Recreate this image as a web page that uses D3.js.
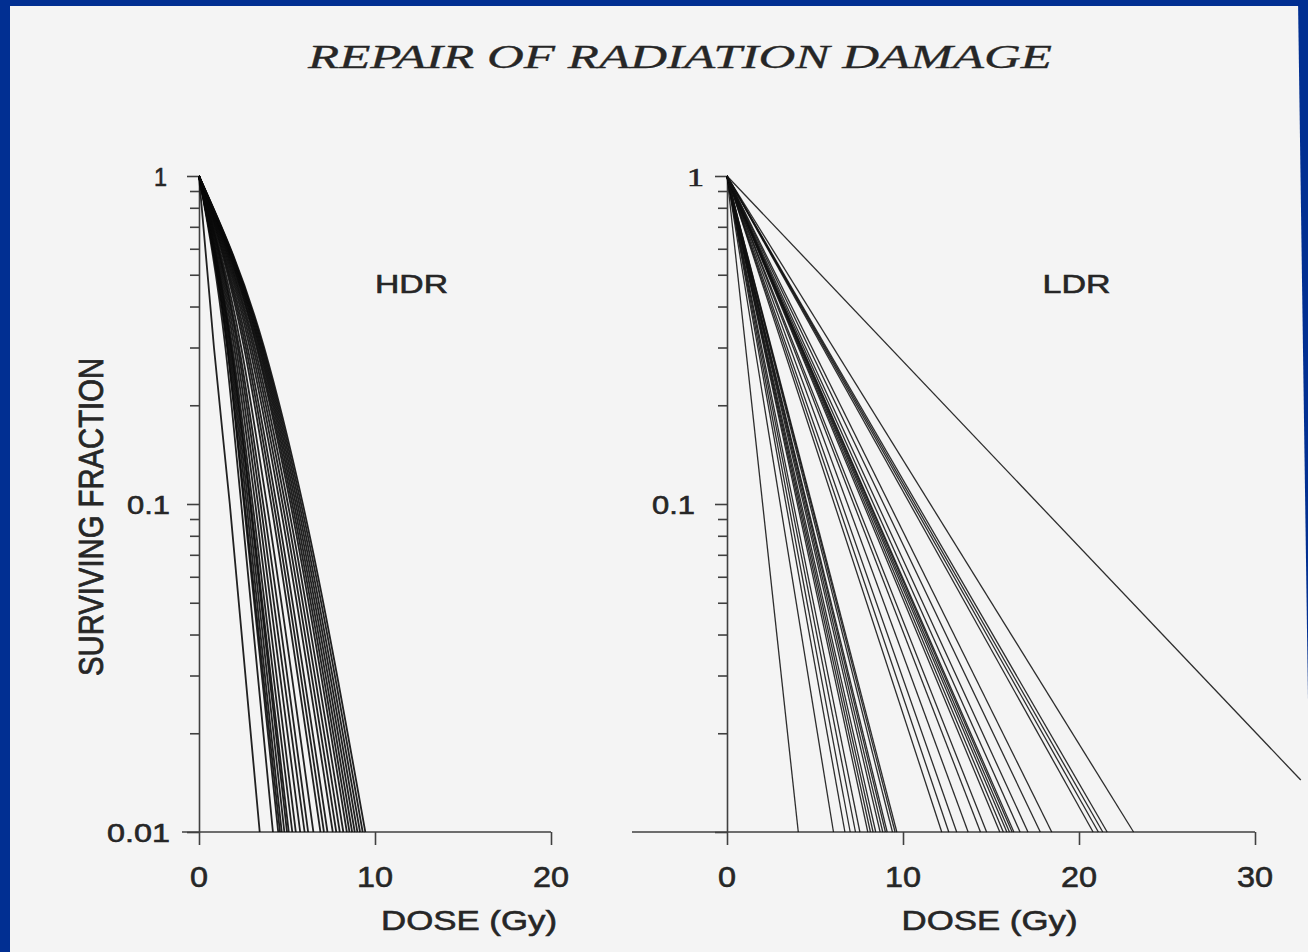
<!DOCTYPE html>
<html lang="en">
<head>
<meta charset="UTF-8">
<title>Repair of radiation damage</title>
<style>
  body { margin: 0; background: #f4f4f4; }
  svg { display: block; }
  text { fill: #262626; stroke: #262626; stroke-width: 0.6px; }
  text.title { stroke-width: 0.3px; }
</style>
</head>
<body>
<svg></svg>
<script src="https://d3js.org/d3.v7.min.js"></script>
<script>
// HDR: dose (Gy) at which each survival curve crosses S = 0.3, 0.1 and 0.01
var hdrDoseS30 = [0.85, 1.5, 1.6, 1.62, 1.68, 1.74, 1.8, 1.84, 1.9, 2.0, 2.1, 2.2, 2.28, 2.4, 2.56,
    2.66, 2.76, 2.88, 2.98, 3.08, 3.17, 3.27, 3.33, 3.4, 3.46, 3.52, 3.58, 3.64, 3.7];
var hdrDoseS10 = [1.75, 2.4, 2.55, 2.6, 2.7, 2.8, 2.9, 2.95, 3.05, 3.2, 3.35, 3.5, 3.65, 3.85, 4.1,
    4.25, 4.4, 4.6, 4.75, 4.9, 5.05, 5.2, 5.3, 5.4, 5.5, 5.6, 5.7, 5.8, 5.9];
var hdrDoseS01 = [3.45, 4.2, 4.5, 4.6, 4.7, 4.85, 5.0, 5.1, 5.3, 5.5, 5.75, 6.0, 6.2, 6.5, 6.9,
    7.1, 7.3, 7.6, 7.8, 8.0, 8.2, 8.4, 8.55, 8.7, 8.85, 9.0, 9.15, 9.3, 9.45];

// LDR: straight lines from (0, 1) to their end point (dose, surviving fraction)
var ldrEndDose = [4.05, 6.05, 6.7, 7.0, 7.3, 7.55, 8.0, 8.15, 8.3, 8.45, 8.7, 8.85, 9.0, 9.1, 9.4,
    9.55, 9.65, 12.2, 12.6, 13.05, 13.7, 14.4, 14.75, 15.5, 15.7, 15.9, 16.05, 16.2, 16.3, 16.65,
    17.1, 17.8, 18.45, 20.8, 21.1, 21.35, 21.6, 23.1, 32.6];
var ldrEndSF = [0.01, 0.01, 0.01, 0.01, 0.01, 0.01, 0.01, 0.01, 0.01, 0.01, 0.01, 0.01, 0.01, 0.01, 0.01,
    0.01, 0.01, 0.01, 0.01, 0.01, 0.01, 0.01, 0.01, 0.01, 0.01, 0.01, 0.01, 0.01, 0.01, 0.01,
    0.01, 0.01, 0.01, 0.01, 0.01, 0.01, 0.01, 0.01, 0.0144];

var yMajor = [1, 0.1, 0.01];
var yMinor = [0.9, 0.8, 0.7, 0.6, 0.5, 0.4, 0.3, 0.2, 0.09, 0.08, 0.07, 0.06, 0.05, 0.04, 0.03, 0.02];
var hdrTicks = [0, 10, 20];
var ldrTicks = [0, 10, 20, 30];

var W = 1308, H = 952;
var svg = d3.select('svg').attr('width', W).attr('height', H);

svg.append('rect').attr('width', W).attr('height', H).attr('fill', '#f4f4f4');
// slide frame
svg.append('rect').attr('x', 0).attr('y', 0).attr('width', W).attr('height', 6).attr('fill', '#012f92');
svg.append('rect').attr('x', 0).attr('y', 0).attr('width', 10).attr('height', H).attr('fill', '#012f92');
svg.append('path').attr('d', 'M1298,0L1308,0L1308,700Z').attr('fill', '#012f92');

var y = d3.scaleLog().domain([0.01, 1]).range([832, 176]);
var xL = d3.scaleLinear().domain([0, 20]).range([199, 551]);
var xR = d3.scaleLinear().domain([0, 30]).range([727, 1255]);

var axisColor = '#404040';

function text(g, str, x, yy, size, len, opts) {
    opts = opts || {};
    var t = g.append('text')
        .attr('x', x).attr('y', yy)
        .attr('font-family', opts.family || 'Liberation Sans, Arial, sans-serif')
        .attr('font-size', size)
        .attr('font-style', opts.style || 'normal')
        .attr('text-anchor', opts.anchor || 'middle')
        .text(str);
    if (len) t.attr('textLength', len).attr('lengthAdjust', 'spacingAndGlyphs');
    return t;
}

function drawAxes(x, xTicks, xStart, leftLabels) {
    var g = svg.append('g');
    var x0 = x(0);
    // y axis ticks
    g.append('g').attr('transform', 'translate(' + x0 + ',0)')
        .call(d3.axisLeft(y).tickValues(yMajor).tickSize(12).tickSizeOuter(0).tickFormat(''));
    g.append('g').attr('transform', 'translate(' + x0 + ',0)')
        .call(d3.axisLeft(y).tickValues(yMinor).tickSize(9).tickSizeOuter(0).tickFormat(''))
        .select('.domain').remove();
    // x axis
    g.append('g').attr('transform', 'translate(0,' + y(0.01) + ')')
        .call(d3.axisBottom(x).tickValues(xTicks).tickSize(13).tickSizeOuter(0).tickFormat(''))
        .select('.domain').remove();
    g.append('line')
        .attr('x1', xStart).attr('x2', x(xTicks[xTicks.length - 1]))
        .attr('y1', y(0.01)).attr('y2', y(0.01));
    g.selectAll('path, line').attr('stroke', axisColor).attr('stroke-width', 1.6);

    xTicks.forEach(function(v) {
        var s = String(v);
        text(svg, s, x(v), 887, 29, s.length * 18);
    });
    leftLabels.forEach(function(l) {
        text(svg, l.text, x0 - l.gap, y(l.value) + 10, 26, l.len, { anchor: 'end', family: l.family });
    });
}

drawAxes(xL, hdrTicks, 182, [
    { value: 1, text: '1', gap: 32, len: 13 },
    { value: 0.1, text: '0.1', gap: 29, len: 43 },
    { value: 0.01, text: '0.01', gap: 29, len: 63 }
]);
drawAxes(xR, ldrTicks, 632, [
    { value: 1, text: '1', gap: 23, len: 17, family: 'Liberation Serif, Times New Roman, serif' },
    { value: 0.1, text: '0.1', gap: 32, len: 43 }
]);

// HDR curves
var hdrData = hdrDoseS01.map(function(d, i) {
    return [[0, 1], [hdrDoseS30[i], 0.3], [hdrDoseS10[i], 0.1], [d, 0.01]];
});
var hdrLine = d3.line()
    .x(function(d) { return xL(d[0]); })
    .y(function(d) { return y(d[1]); })
    .curve(d3.curveMonotoneX);
svg.append('g').selectAll('path').data(hdrData).join('path')
    .attr('d', hdrLine)
    .attr('fill', 'none')
    .attr('stroke', '#0a0a0a')
    .attr('stroke-width', 1.8)
    .attr('stroke-opacity', 0.9);

// LDR lines
var ldrData = ldrEndDose.map(function(d, i) { return [[0, 1], [d, ldrEndSF[i]]]; });
var ldrLine = d3.line()
    .x(function(d) { return xR(d[0]); })
    .y(function(d) { return y(d[1]); });
svg.append('g').selectAll('path').data(ldrData).join('path')
    .attr('d', ldrLine)
    .attr('fill', 'none')
    .attr('stroke', '#111')
    .attr('stroke-width', 1.3)
    .attr('stroke-opacity', 0.88);

// titles and labels
text(svg, 'REPAIR OF RADIATION DAMAGE', 680, 68, 33, 744,
    { family: 'Liberation Serif, Times New Roman, serif', style: 'italic' }).attr('class', 'title');
text(svg, 'HDR', 411.5, 293, 25, 73);
text(svg, 'LDR', 1076.5, 293, 25, 68);
text(svg, 'DOSE (Gy)', 469, 930, 28, 176);
text(svg, 'DOSE (Gy)', 989.5, 930, 28, 176);
svg.append('g')
    .attr('transform', 'translate(90.5,517) scale(1.3,1) rotate(-90)')
    .call(function(g) { text(g, 'SURVIVING FRACTION', 0, 9.6, 27, 318); });
</script>
</body>
</html>
